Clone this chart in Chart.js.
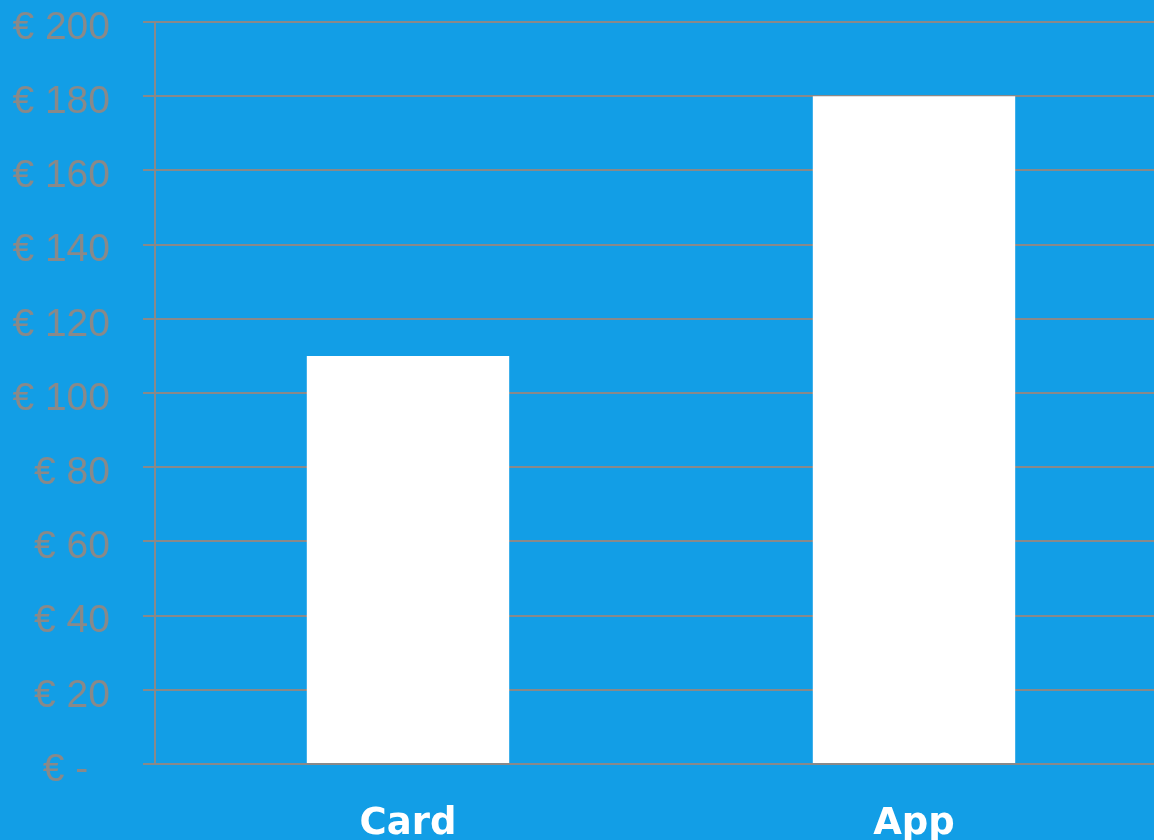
<!DOCTYPE html>
<html>
<head>
<meta charset="utf-8">
<script src="https://cdn.jsdelivr.net/npm/chart.js@4/dist/chart.umd.min.js"></script>
<style>
    html, body { margin: 0; padding: 0; overflow: hidden; background: #129ee6; }
    #wrap { position: absolute; left: 0; top: 0; width: 1167px; height: 840px; }
</style>
</head>
<body>
<div id="wrap"><canvas id="grafico" width="1167" height="840"></canvas></div>
<script>
const categorias = ["Card", "App"];
const valores = [110, 180];
const rotulosY = ["€ -  ", "€ 20", "€ 40", "€ 60", "€ 80", "€ 100", "€ 120", "€ 140", "€ 160", "€ 180", "€ 200"];

const cinza = "#898989";

const ctx = document.getElementById("grafico").getContext("2d");

new Chart(ctx, {
    type: "bar",
    data: {
        labels: categorias,
        datasets: [{
            data: valores,
            backgroundColor: "#ffffff",
            borderWidth: 0,
            barPercentage: 0.4,
            categoryPercentage: 1
        }]
    },
    options: {
        responsive: false,
        animation: false,
        layout: { padding: { top: 22, right: 0, bottom: 0, left: 0 } },
        plugins: { legend: { display: false }, tooltip: { enabled: false } },
        scales: {
            x: {
                grid: { display: false },
                border: { display: false },
                ticks: {
                    color: "#ffffff",
                    padding: 30,
                    font: { family: "DejaVu Sans", size: 37, weight: "bold" }
                },
                afterFit: s => { s.height = 76; s.paddingLeft = 0; s.paddingRight = 0; }
            },
            y: {
                min: 0,
                max: 200,
                grid: { color: cinza, lineWidth: 2, tickLength: 12 },
                border: { color: cinza, width: 2 },
                ticks: {
                    stepSize: 20,
                    color: cinza,
                    padding: 33,
                    labelOffset: 6,
                    font: { family: "Liberation Sans", size: 39 },
                    callback: (v, i) => rotulosY[i]
                },
                afterFit: s => { s.width = 155; s.paddingTop = 0; s.paddingBottom = 0; }
            }
        }
    }
});
</script>
</body>
</html>
